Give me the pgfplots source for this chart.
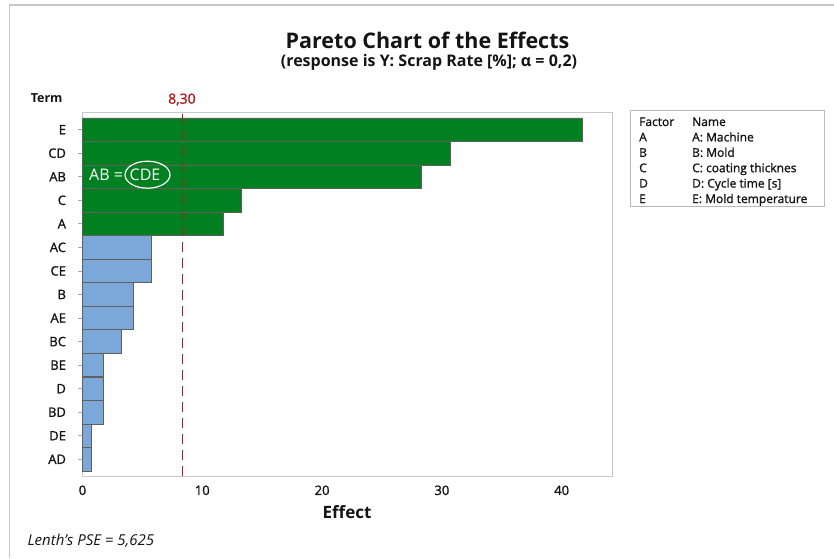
\documentclass[border=0pt]{standalone}
\usepackage{fontspec}
\setmainfont{Open Sans}
\newfontfamily\semib[FakeBold=1.3]{Open Sans}
\usepackage{pgfplots}
\pgfplotsset{compat=1.18}
\definecolor{bargreen}{RGB}{0,128,32}
\definecolor{barblue}{RGB}{123,167,217}
\definecolor{edgegray}{RGB}{95,95,95}
\definecolor{critred}{RGB}{170,30,30}
\definecolor{framegray}{RGB}{200,200,200}
\definecolor{txt}{RGB}{20,20,20}
\begin{document}
\begin{tikzpicture}[x=1pt,y=1pt]
\useasboundingbox (0pt,0pt) rectangle (834pt,558pt);
\draw[framegray, line width=1.2pt] (9.3pt,0pt) -- (9.3pt,553pt) -- (834pt,553pt);
\node[font=\fontsize{21.5}{25}\selectfont\bfseries, text=txt] at (427.5pt,518pt) {Pareto Chart of the Effects};
\node[font=\fontsize{16}{19}\selectfont\bfseries, text=txt] at (429pt,496pt) {(response is Y: Scrap Rate [\%]; α = 0,2)};
\begin{axis}[
  at={(82.5pt,82pt)}, anchor=south west,
  width=529.5pt, height=364pt, scale only axis,
  xmin=0, xmax=44.2, ymin=0.29, ymax=15.75,
  xbar, bar width=23.5pt, bar shift=0pt,
  ytick={1,...,15},
  yticklabels={AD,DE,BD,D,BE,BC,AE,B,CE,AC,A,C,AB,CD,E},
  xtick={0,10,20,30,40},
  tick pos=left,
  tick align=outside,
  axis line style={framegray, line width=1pt},
  tick style={gray!70, line width=0.8pt},
  major tick length=4pt,
  xtick style={draw=none},
  ticklabel style={font=\fontsize{13}{15}\selectfont\semib, text=txt},
  yticklabel style={xshift=-9pt},
  xticklabel style={yshift=-2pt},
  /pgf/number format/assume math mode=true,
  clip=false,
]
\addplot[fill=bargreen, draw=edgegray, line width=0.8pt] coordinates {
  (41.75,15) (30.75,14) (28.25,13) (13.25,12) (11.75,11)};
\addplot[fill=barblue, draw=edgegray, line width=0.8pt] coordinates {
  (5.75,10) (5.75,9) (4.25,8) (4.25,7) (3.25,6) (1.75,5) (1.75,4) (1.75,3) (0.75,2) (0.75,1)};
\draw[critred, line width=0.8pt, dash pattern=on 10pt off 6pt] (axis cs:8.3,0.29) -- (axis cs:8.3,15.75);
\node[critred, font=\fontsize{14}{17}\selectfont\semib, anchor=south] at (axis cs:8.3,15.75) [yshift=3pt] {8,30};
\end{axis}
\node[font=\fontsize{12.5}{15}\selectfont\bfseries, text=txt, anchor=east] at (66pt,460pt) {Term};
% annotation
\node[white, font=\fontsize{16}{19}\selectfont, anchor=west, inner sep=0pt] at (89pt,383.3pt) {AB =};
\node[white, font=\fontsize{16}{19}\selectfont, inner sep=0pt] at (145pt,383.3pt) {CDE};
\draw[white, line width=1.2pt] (147.5pt,383.3pt) ellipse [x radius=22.5pt, y radius=13.5pt];
\node[font=\fontsize{17}{20}\selectfont\bfseries, text=txt] at (347pt,46pt) {Effect};
\node[font=\fontsize{15}{18}\selectfont\itshape, text=txt, anchor=west] at (24pt,17pt) {Lenth's PSE = 5,625};
% factor table
\draw[framegray!80!gray, line width=1pt] (630pt,447pt) rectangle (824pt,351.5pt);
\begin{scope}[every node/.style={font=\fontsize{12}{14}\selectfont\semib, text=txt, anchor=base west, inner sep=0pt}]
\node at (639pt,432pt) {Factor};
\node at (692pt,432pt) {Name};
\node at (639pt,416.6pt) {A}; \node at (692pt,416.6pt) {A: Machine};
\node at (639pt,401.2pt) {B}; \node at (692pt,401.2pt) {B: Mold};
\node at (639pt,385.8pt) {C}; \node at (692pt,385.8pt) {C: coating thicknes};
\node at (639pt,370.4pt) {D}; \node at (692pt,370.4pt) {D: Cycle time [s]};
\node at (639pt,355pt) {E}; \node at (692pt,355pt) {E: Mold temperature};
\end{scope}
\end{tikzpicture}
\end{document}
